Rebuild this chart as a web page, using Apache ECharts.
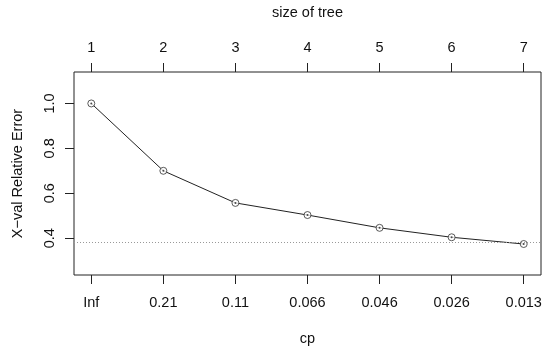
<!DOCTYPE html>
<html>
<head>
<meta charset="utf-8">
<script src="https://cdn.jsdelivr.net/npm/echarts@6/dist/echarts.min.js"></script>
<style>
html,body{margin:0;padding:0;background:#fff;}
#chart{width:550px;height:352px;}
</style>
</head>
<body>
<div id="chart"></div>
<script>
// Data (rpart plotcp)
var treeSizes = [1, 2, 3, 4, 5, 6, 7];
var cpLabels = ['Inf', '0.21', '0.11', '0.066', '0.046', '0.026', '0.013'];
var xvalError = [1.0, 0.70, 0.557, 0.503, 0.446, 0.404, 0.374];
var thresholdLine = 0.381;
var yTicks = [0.4, 0.6, 0.8, 1.0];

var FONT = 'Liberation Sans, Arial, Helvetica, sans-serif';
var FS = 14.5;
var positions = treeSizes.map(function (s, i) { return i + 1; });
var linePoints = positions.map(function (p, i) { return [p, xvalError[i]]; });

var chart = echarts.init(document.getElementById('chart'), null, {renderer: 'canvas'});
chart.setOption({
  animation: false,
  backgroundColor: '#fff',
  grid: {left: 74, right: 9, top: 72, bottom: 77, containLabel: false, outerBoundsMode: 'none',
    show: true, borderColor: '#222', borderWidth: 1, backgroundColor: 'transparent'},
  xAxis: [{
    type: 'value', position: 'bottom', min: 0.76, max: 7.24,
    name: 'cp', nameLocation: 'middle', nameGap: 56,
    nameTextStyle: {fontFamily: FONT, fontSize: FS, color: '#111'},
    axisLine: {show: false}, splitLine: {show: false},
    axisTick: {show: true, inside: false, length: 9, lineStyle: {color: '#222', width: 1}, customValues: positions},
    axisLabel: {show: true, margin: 20, fontFamily: FONT, fontSize: FS, color: '#111', customValues: positions,
      formatter: function (v) { return cpLabels[Math.round(v) - 1]; }}
  }, {
    type: 'value', position: 'top', min: 0.76, max: 7.24,
    name: 'size of tree', nameLocation: 'middle', nameGap: 52,
    nameTextStyle: {fontFamily: FONT, fontSize: FS, color: '#111'},
    axisLine: {show: false}, splitLine: {show: false},
    axisTick: {show: true, inside: false, length: 9, lineStyle: {color: '#222', width: 1}, customValues: positions},
    axisLabel: {show: true, margin: 17, fontFamily: FONT, fontSize: FS, color: '#111', customValues: positions,
      formatter: function (v) { return String(treeSizes[Math.round(v) - 1]); }}
  }],
  yAxis: {
    type: 'value', min: 0.236, max: 1.14,
    name: 'X\u2212val Relative Error', nameLocation: 'middle', nameGap: 49, nameRotate: 90,
    nameTextStyle: {fontFamily: FONT, fontSize: FS, color: '#111'},
    axisLine: {show: false}, splitLine: {show: false},
    axisTick: {show: true, inside: false, length: 9, lineStyle: {color: '#222', width: 1}, customValues: yTicks},
    axisLabel: {show: true, rotate: 90, margin: 17, fontFamily: FONT, fontSize: FS, color: '#111', customValues: yTicks,
      formatter: function (v) { return v.toFixed(1); }}
  },
  series: [{
    type: 'line', xAxisIndex: 0, data: linePoints,
    symbol: 'none',
    lineStyle: {color: '#222', width: 1},
    markLine: {
      silent: true, symbol: ['none', 'none'], label: {show: false},
      lineStyle: {color: '#999', type: [1, 2], width: 1},
      data: [{yAxis: thresholdLine}]
    },
    z: 3
  }, {
    type: 'scatter', xAxisIndex: 0, data: linePoints,
    symbol: 'circle', symbolSize: 7,
    itemStyle: {color: '#fff', borderColor: '#333', borderWidth: 1},
    z: 4
  }, {
    type: 'scatter', xAxisIndex: 0, data: linePoints,
    symbol: 'circle', symbolSize: 2, itemStyle: {color: '#222'}, z: 5
  }]
});
</script>
</body>
</html>
